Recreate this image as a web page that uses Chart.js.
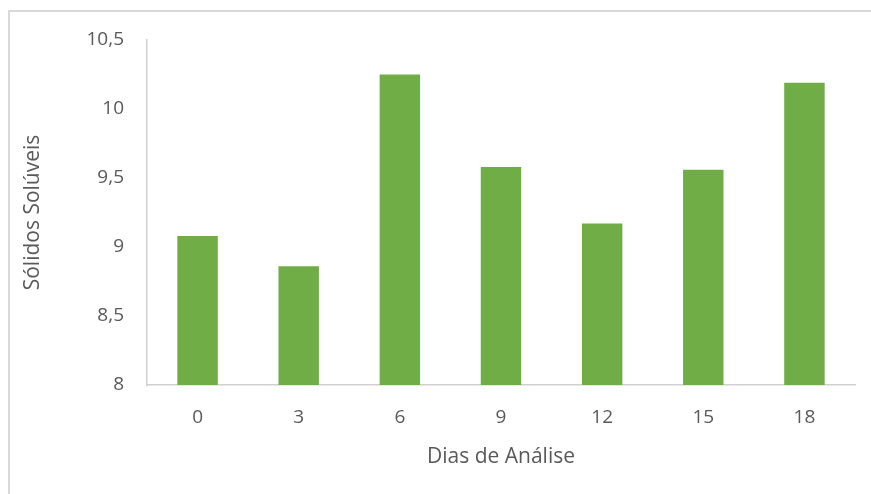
<!DOCTYPE html>
<html>
<head>
<meta charset="utf-8">
<script src="https://cdn.jsdelivr.net/npm/chart.js@4/dist/chart.umd.min.js"></script>
<style>
    body { margin: 0; background: #fff; overflow: hidden; }
    #wrap { position: relative; width: 871px; height: 494px; }
    #frame { position: absolute; left: 8px; top: 10px; width: 900px; height: 600px; border: 2px solid #d9d9d9; }
    #chart { position: absolute; left: 0; top: 0; }
</style>
</head>
<body>
<div id="wrap">
    <div id="frame"></div>
    <canvas id="chart" width="871" height="494"></canvas>
</div>
<script>
const days = ['0', '3', '6', '9', '12', '15', '18'];
const solidos = [9.08, 8.86, 10.25, 9.58, 9.17, 9.56, 10.19];
const yMin = 8;
const yMax = 10.5;
const yStep = 0.5;

const textColor = '#595959';
const axisColor = '#d0d0d0';

new Chart(document.getElementById('chart'), {
    type: 'bar',
    data: {
        labels: days,
        datasets: [{
            label: 'Sólidos Solúveis',
            data: solidos,
            backgroundColor: '#70ad47',
            categoryPercentage: 1,
            barPercentage: 0.4
        }]
    },
    options: {
        responsive: false,
        animation: false,
        layout: { padding: { left: 0, right: 16, top: 40, bottom: 0 } },
        plugins: { legend: { display: false }, tooltip: { enabled: false } },
        scales: {
            x: {
                grid: { display: false, drawTicks: false },
                border: { display: true, color: axisColor, width: 1.5 },
                ticks: { color: textColor, font: { family: 'Open Sans', size: 19 }, padding: 21 },
                title: {
                    display: true, text: 'Dias de Análise', color: textColor,
                    font: { family: 'Open Sans', size: 21 }, padding: { top: 0, bottom: 24 }
                },
                afterFit: (scale) => { scale.height = 109; }
            },
            y: {
                min: yMin,
                max: yMax,
                grid: { display: false, drawTicks: false },
                border: { display: true, color: axisColor, width: 1.5 },
                ticks: {
                    stepSize: yStep,
                    color: textColor,
                    font: { family: 'Open Sans', size: 19 },
                    padding: 23,
                    callback: (v) => String(v).replace('.', ',')
                },
                title: {
                    display: true, text: 'Sólidos Solúveis', color: textColor,
                    font: { family: 'Open Sans', size: 21 }, padding: { top: 20, bottom: 0 }
                },
                afterFit: (scale) => { scale.width = 147; }
            }
        }
    }
});
</script>
</body>
</html>
